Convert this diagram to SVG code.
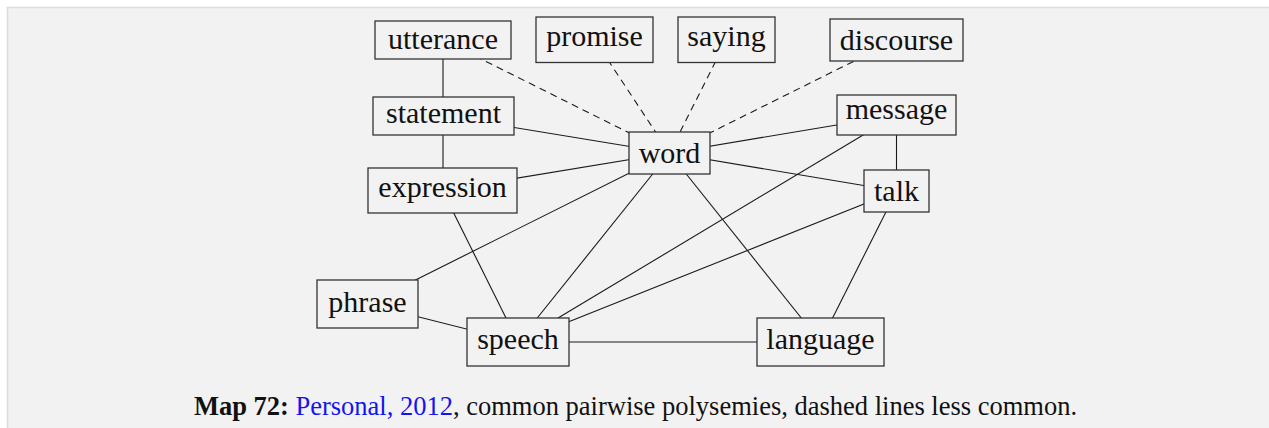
<svg xmlns="http://www.w3.org/2000/svg" width="1269" height="428" viewBox="0 0 1269 428">
<style>
.bg{fill:#f2f2f2;stroke:#dcdcdc;stroke-width:1.5}
.box{fill:#f2f2f2;stroke:#333;stroke-width:1.3}
.lbl{font-family:"Liberation Serif","Times New Roman",serif;font-size:30px;fill:#111;text-anchor:middle}
.e{stroke:#1a1a1a;stroke-width:1.1;fill:none}
.d{stroke-dasharray:7,5}
.cap{font-family:"Liberation Serif","Times New Roman",serif;font-size:26.5px;fill:#111}
</style>
<rect x="0" y="0" width="1269" height="428" fill="#ffffff"/>
<rect class="bg" x="7.5" y="7.5" width="1270" height="430"/>
<g id="connectors">
<line class="e d" x1="443" y1="40" x2="669.5" y2="153"/>
<line class="e d" x1="594.5" y1="39.7" x2="669.5" y2="153"/>
<line class="e d" x1="726.5" y1="39.8" x2="669.5" y2="153"/>
<line class="e d" x1="896.5" y1="40" x2="669.5" y2="153"/>
<line class="e" x1="443" y1="40" x2="443" y2="116"/>
<line class="e" x1="443" y1="116" x2="443" y2="190.5"/>
<line class="e" x1="443.5" y1="116" x2="669.5" y2="153"/>
<line class="e" x1="442.5" y1="190.5" x2="669.5" y2="153"/>
<line class="e" x1="896.5" y1="115" x2="669.5" y2="153"/>
<line class="e" x1="669.5" y1="153" x2="896.5" y2="191"/>
<line class="e" x1="896.5" y1="115" x2="896.5" y2="191"/>
<line class="e" x1="669.5" y1="153" x2="367.5" y2="304"/>
<line class="e" x1="669.5" y1="153" x2="518" y2="342"/>
<line class="e" x1="669.5" y1="153" x2="820.5" y2="342"/>
<line class="e" x1="442.5" y1="190.5" x2="518" y2="342"/>
<line class="e" x1="367.5" y1="304" x2="518" y2="342"/>
<line class="e" x1="518" y1="342" x2="896.5" y2="115"/>
<line class="e" x1="518" y1="342" x2="896.5" y2="191"/>
<line class="e" x1="518" y1="342" x2="820.5" y2="342"/>
<line class="e" x1="896.5" y1="191" x2="820.5" y2="342"/>
</g>
<g id="utterance"><rect class="box" x="375" y="21" width="136" height="38"/><text class="lbl" x="443" y="49">utterance</text></g>
<g id="promise"><rect class="box" x="536" y="17" width="117" height="45.5"/><text class="lbl" x="594.5" y="46">promise</text></g>
<g id="saying"><rect class="box" x="678" y="17" width="97" height="45.5"/><text class="lbl" x="726.5" y="46">saying</text></g>
<g id="discourse"><rect class="box" x="830" y="19" width="133" height="42"/><text class="lbl" x="896.5" y="50">discourse</text></g>
<g id="statement"><rect class="box" x="373" y="97" width="141" height="38"/><text class="lbl" x="443.5" y="123">statement</text></g>
<g id="message"><rect class="box" x="837" y="95" width="119" height="40"/><text class="lbl" x="896.5" y="119">message</text></g>
<g id="word"><rect class="box" x="629" y="132" width="81" height="42"/><text class="lbl" x="669.5" y="163">word</text></g>
<g id="expression"><rect class="box" x="368" y="168" width="149" height="45"/><text class="lbl" x="442.5" y="197">expression</text></g>
<g id="talk"><rect class="box" x="864" y="170" width="65" height="42"/><text class="lbl" x="896.5" y="201">talk</text></g>
<g id="phrase"><rect class="box" x="317" y="280" width="101" height="48"/><text class="lbl" x="367.5" y="312">phrase</text></g>
<g id="speech"><rect class="box" x="467" y="318" width="102" height="48"/><text class="lbl" x="518" y="349">speech</text></g>
<g id="language"><rect class="box" x="757" y="318" width="127" height="48"/><text class="lbl" x="820.5" y="349">language</text></g>
<text class="cap" x="635.5" y="415" text-anchor="middle"><tspan font-weight="bold">Map 72:</tspan> <tspan fill="#1414f0">Personal, 2012</tspan>, common pairwise polysemies, dashed lines less common.</text>
</svg>
